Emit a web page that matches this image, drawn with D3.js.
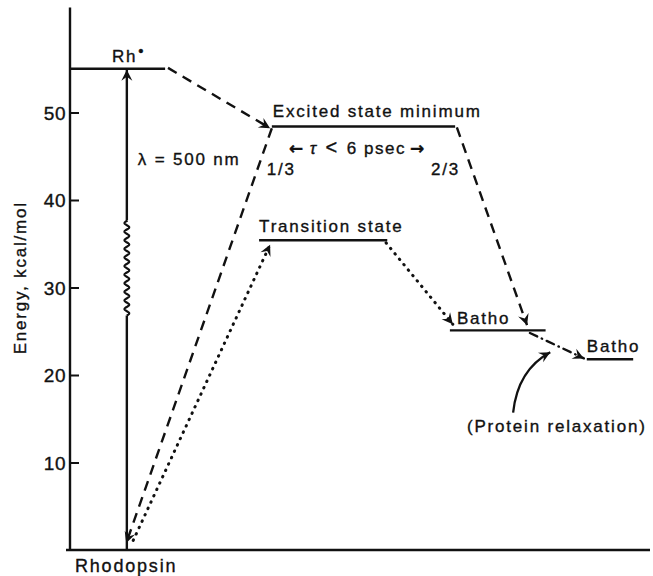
<!DOCTYPE html>
<html><head><meta charset="utf-8">
<script src="https://cdn.jsdelivr.net/npm/d3@7"></script>
<style>
html,body{margin:0;padding:0;background:#fff;}
svg text{font-family:"Liberation Sans",Arial,sans-serif;fill:#111;stroke:#111;stroke-width:0.35px;}
</style></head>
<body><svg id="c" width="653" height="576"></svg>
<script>
// ---- data ----
const yTicks = [10, 20, 30, 40, 50];
const levelNames = ["Rh*", "Excited state minimum", "Transition state", "Batho", "Batho2"];
const levelEnergy = [55, 48.4, 35.4, 25.1, 21.8];          // kcal/mol
const levelStart = [0, 34.8, 32.6, 65.5, 89.1];             // reaction coordinate
const levelEnd = [16.4, 66.4, 54.7, 82, 97.1];
const rhodopsinCoord = 9.8;                                 // reaction coordinate of ground state
const photonEnergy = [0, 55];
const wavyRange = [26.8, 37.7];
// transitions: [x0, e0, x1, e1]
const dashedPaths = [[16.9, 55.1, 34.5, 48.2], [34.8, 48.2, 9.7, 0.8], [66.7, 48.3, 78.8, 25.7]];
const dottedPaths = [[10.9, 1.1, 34.5, 34.9], [54.5, 35.1, 66, 25.8]];
const dashDotPaths = [[79.3, 24.8, 88.6, 21.9]];
const relaxCurve = [[76.4, 15.7], [77.2, 20.6], [82.8, 22.6]];

const svg = d3.select("#c");
const x = d3.scaleLinear().domain([0, 100]).range([70, 650]);
const y = d3.scaleLinear().domain([0, 62]).range([550, 7.5]);
const FS = 17, LS = "1.8px";

// markers
const defs = svg.append("defs");
defs.append("marker").attr("id", "ah").attr("viewBox", "-13 -7 15 14")
  .attr("refX", 0).attr("refY", 0).attr("markerWidth", 15).attr("markerHeight", 14)
  .attr("markerUnits", "userSpaceOnUse").attr("orient", "auto")
  .append("path").attr("d", "M0,0 L-11,-5.5 L-7,0 L-11,5.5 Z").attr("fill", "#111");

// y axis (ticks inward to the right)
const axis = d3.axisRight(y).tickValues(yTicks).tickSize(9).tickFormat(d3.format("d"));
const ag = svg.append("g").attr("transform", `translate(${x(0)},0)`).call(axis);
ag.select(".domain").remove();
ag.selectAll(".tick line").attr("stroke", "#111").attr("stroke-width", 2);
ag.selectAll(".tick text").attr("x", -4).attr("text-anchor", "end").attr("dy", "0.36em")
  .style("font-size", "19px").style("letter-spacing", "0.5px")
  .style("font-family", "Liberation Sans, Arial, sans-serif").attr("fill", "#111");
svg.append("line").attr("x1", x(0)).attr("x2", x(0)).attr("y1", y(62)).attr("y2", y(0))
  .attr("stroke", "#111").attr("stroke-width", 2.4);
// baseline
svg.append("line").attr("x1", x(0) - 4).attr("x2", x(100)).attr("y1", y(0)).attr("y2", y(0))
  .attr("stroke", "#111").attr("stroke-width", 2.4);

// axis title
svg.append("text").attr("transform", `translate(26,${(y(0) + y(62)) / 2 - 1}) rotate(-90)`)
  .attr("text-anchor", "middle").style("font-size", FS + "px").style("letter-spacing", LS)
  .text("Energy, kcal/mol");

// levels
svg.selectAll("line.level").data(levelEnergy).join("line").attr("class", "level")
  .attr("x1", (d, i) => x(levelStart[i])).attr("x2", (d, i) => x(levelEnd[i]))
  .attr("y1", d => y(d)).attr("y2", d => y(d)).attr("stroke", "#111").attr("stroke-width", 2.4);

// photon arrow
const pv = svg.append("g");
const xr = x(rhodopsinCoord);
pv.append("line").attr("x1", xr).attr("x2", xr).attr("y1", y(photonEnergy[0])).attr("y2", y(wavyRange[0]))
  .attr("stroke", "#111").attr("stroke-width", 2.4);
// wavy segment
const wv = [];
const yA = y(wavyRange[0]), yB = y(wavyRange[1]);
for (let t = yA; t >= yB; t -= 0.5) wv.push([xr + 2.4 * Math.sin((yA - t) / 8.6 * 2 * Math.PI), t]);
pv.append("path").attr("d", d3.line()(wv)).attr("fill", "none").attr("stroke", "#111").attr("stroke-width", 2.1);
pv.append("line").attr("x1", xr).attr("x2", xr).attr("y1", yB).attr("y2", y(photonEnergy[1]) + 1)
  .attr("stroke", "#111").attr("stroke-width", 2.4).attr("marker-end", "url(#ah)");

// transitions
function drawPaths(data, dash, width, cap) {
  svg.append("g").selectAll("line").data(data).join("line")
    .attr("x1", d => x(d[0])).attr("y1", d => y(d[1])).attr("x2", d => x(d[2])).attr("y2", d => y(d[3]))
    .attr("stroke", "#111").attr("stroke-width", width).attr("stroke-dasharray", dash)
    .attr("stroke-linecap", cap).attr("marker-end", "url(#ah)");
}
drawPaths(dashedPaths, "10,7", 2.4, "butt");
drawPaths(dottedPaths, "0.5,6.5", 3, "round");
drawPaths(dashDotPaths, "8,5,0.5,5", 2.4, "round");

// protein relaxation curve
svg.append("path")
  .attr("d", `M${x(relaxCurve[0][0])},${y(relaxCurve[0][1])} Q${x(relaxCurve[1][0])},${y(relaxCurve[1][1])} ${x(relaxCurve[2][0])},${y(relaxCurve[2][1])}`)
  .attr("fill", "none").attr("stroke", "#111").attr("stroke-width", 2.3).attr("marker-end", "url(#ah)");

// labels
function label(txt, px, py, anchor, size) {
  return svg.append("text").attr("x", px).attr("y", py).attr("text-anchor", anchor || "start")
    .style("font-size", (size || FS) + "px").style("letter-spacing", LS).text(txt);
}
const rh = svg.append("text").attr("x", 112).attr("y", y(levelEnergy[0]) - 7)
  .style("font-size", FS + "px").style("letter-spacing", LS);
rh.append("tspan").text("Rh");
rh.append("tspan").attr("dy", -6).attr("dx", 1).style("font-size", "15px").text("•");
label("λ = 500 nm", xr + 11, 165);
label(levelNames[1], x(levelStart[1]) + 1, y(levelEnergy[1]) - 10);
const tau = svg.append("text").attr("x", 289).attr("y", 154)
  .style("font-size", FS + "px").style("letter-spacing", "1.5px");
tau.append("tspan").style("font-family", "DejaVu Sans").style("font-weight", "bold").text("←");
tau.append("tspan").attr("dx", 5).style("font-style", "italic").text("τ");
tau.append("tspan").attr("dx", 8).style("font-size", "20px").text("<");
tau.append("tspan").attr("dx", 8).text("6 psec");
tau.append("tspan").attr("dx", 4).style("font-family", "DejaVu Sans").style("font-weight", "bold").text("→");
label("1/3", x(levelStart[1]) - 5, 175);
label("2/3", x(levelEnd[1]) + 5, 175, "end");
label(levelNames[2], x(levelStart[2]), y(levelEnergy[2]) - 8);
label("Batho", x(levelStart[3]) + 7, y(levelEnergy[3]) - 6);
label("Batho", x(levelStart[4]), y(levelEnergy[4]) - 7);
label("(Protein relaxation)", 467, 432);
label("Rhodopsin", 75, 572, "start", 18);
</script></body></html>
